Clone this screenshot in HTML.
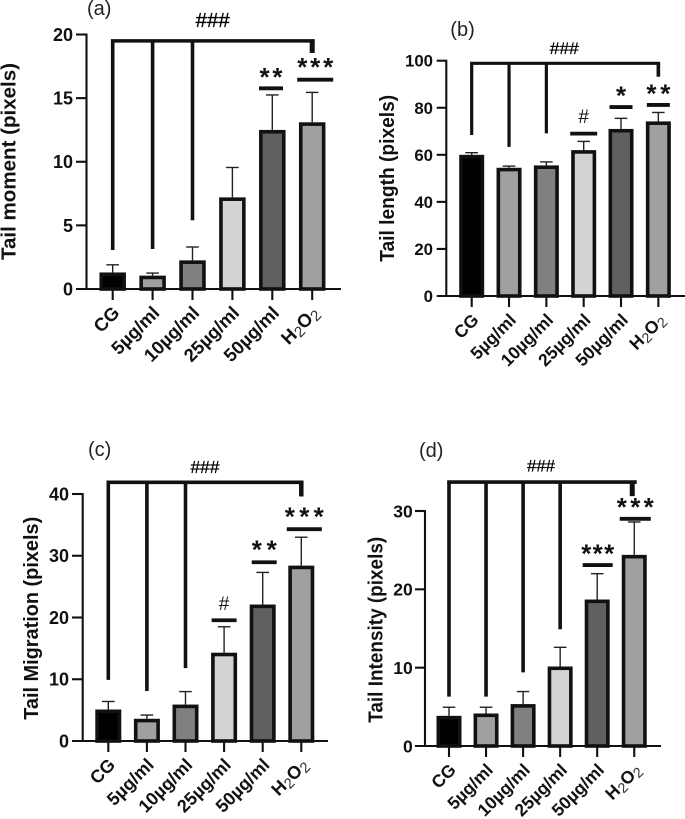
<!DOCTYPE html>
<html lang="en">
<head>
<meta charset="utf-8">
<title>Comet assay tail parameters</title>
<style>
html,body{margin:0;padding:0;background:#fff;}
body{width:685px;height:819px;overflow:hidden;}
svg{display:block;font-family:"Liberation Sans",sans-serif;}
</style>
</head>
<body>
<svg id="figure" width="685" height="819" viewBox="0 0 685 819" xmlns="http://www.w3.org/2000/svg"></svg>
<script>
const categories = ['CG', '5µg/ml', '10µg/ml', '25µg/ml', '50µg/ml', 'H2O2'];
const barFills = ['#000000', '#a0a0a0', '#808080', '#d3d3d3', '#606060', '#a0a0a0'];

const aTicks = [0, 5, 10, 15, 20];
const aValues = [1.3, 1.05, 2.25, 7.2, 12.5, 13.1];
const aErrorTops = [1.9, 1.25, 3.3, 9.55, 15.25, 15.45];
const aBracketDrops = [3.06, 3.14, 5.4];
const aBracketLevel = 19.5;
const aBracketEnd = 18.55;
const aSigLabels = ['**', '***'];
const aSigCategories = [4, 5];
const aSigLevels = [15.77, 16.45];

const bTicks = [0, 20, 40, 60, 80, 100];
const bValues = [60, 54.5, 55.5, 62, 71, 74.2];
const bErrorTops = [60.9, 55.2, 57, 65.7, 75.5, 78];
const bBracketDrops = [68.4, 63.4, 69.1];
const bBracketLevel = 98.9;
const bBracketEnd = 93.2;
const bSigLabels = ['#', '*', '**'];
const bSigCategories = [3, 4, 5];
const bSigLevels = [69, 80.3, 81.2];

const cTicks = [0, 10, 20, 30, 40];
const cValues = [5.1, 3.6, 5.9, 14.3, 22.1, 28.4];
const cErrorTops = [6.4, 4.2, 8, 18.5, 27.3, 33];
const cBracketDrops = [9.9, 8.1, 11.8];
const cBracketLevel = 41.9;
const cBracketEnd = 39.6;
const cSigLabels = ['#', '**', '***'];
const cSigCategories = [3, 4, 5];
const cSigLevels = [19.55, 28.95, 34.3];

const dTicks = [0, 10, 20, 30];
const dValues = [3.85, 4.15, 5.35, 10.15, 18.7, 24.4];
const dErrorTops = [4.95, 4.95, 6.95, 12.6, 22, 28.6];
const dBracketDrops = [6.3, 6.3, 9.4, 14.9];
const dBracketLevel = 33.7;
const dBracketEnd = 31.9;
const dSigLabels = ['***', '***'];
const dSigCategories = [4, 5];
const dSigLevels = [23.1, 29];

const panels = [
  {id:'a', title:'Tail moment (pixels)', letter:'(a)', ticks:aTicks, values:aValues, tops:aErrorTops,
   drops:aBracketDrops, level:aBracketLevel, end:aBracketEnd, sigL:aSigLabels, sigC:aSigCategories, sigV:aSigLevels,
   axisX:86.5, y0:289, yTop:34.5, yMax:20, axisStart:76, axisEnd:341, first:112.7, step:39.9, barW:26.5, fs:18,
   tickRight:73, titleX:15.5, titleMid:161.5, titleLen:197, letterX:87, letterY:15, hashX:212.7, hashY:27, hashLen:34, hashFs:20,
   brW:3.6, endW:5, sigW:[24,36], sigDx:[-1.3,3], sigTextW:[23,36], sigGap:[14,15], xfs:18.5},
  {id:'b', title:'Tail length (pixels)', letter:'(b)', ticks:bTicks, values:bValues, tops:bErrorTops,
   drops:bBracketDrops, level:bBracketLevel, end:bBracketEnd, sigL:bSigLabels, sigC:bSigCategories, sigV:bSigLevels,
   axisX:446.3, y0:296, yTop:60.7, yMax:100, axisStart:436.7, axisEnd:685, first:471.7, step:37.33, barW:25, fs:16.8,
   tickRight:433, titleX:394, titleMid:178.3, titleLen:167, letterX:450.3, letterY:36, hashX:564.3, hashY:54, hashLen:29, hashFs:17,
   brW:3.2, endW:3.6, sigW:[27,23,23], sigDx:[0,0,0], sigTextW:[10,10,24], sigGap:[17,14,14], xfs:17.5},
  {id:'c', title:'Tail Migration (pixels)', letter:'(c)', ticks:cTicks, values:cValues, tops:cErrorTops,
   drops:cBracketDrops, level:cBracketLevel, end:cBracketEnd, sigL:cSigLabels, sigC:cSigCategories, sigV:cSigLevels,
   axisX:82.7, y0:741, yTop:494, yMax:40, axisStart:72, axisEnd:328, first:108.3, step:38.6, barW:26, fs:18,
   tickRight:69, titleX:38, titleMid:618.3, titleLen:203, letterX:88, letterY:456, hashX:205, hashY:473, hashLen:29, hashFs:17.5,
   brW:3.6, endW:4.5, sigW:[25,25,35], sigDx:[0,1.5,3], sigTextW:[10,25,39], sigGap:[17,15,15], xfs:18},
  {id:'d', title:'Tail Intensity (pixels)', letter:'(d)', ticks:dTicks, values:dValues, tops:dErrorTops,
   drops:dBracketDrops, level:dBracketLevel, end:dBracketEnd, sigL:dSigLabels, sigC:dSigCategories, sigV:dSigLevels,
   axisX:425, y0:746, yTop:511, yMax:30, axisStart:415, axisEnd:661, first:449, step:37.05, barW:25, fs:17.5,
   tickRight:412.7, titleX:382.5, titleMid:629.8, titleLen:186, letterX:419, letterY:457, hashX:541, hashY:471.5, hashLen:28, hashFs:17,
   brW:3.6, endW:5, sigW:[30,31], sigDx:[0.5,1], sigTextW:[33,37], sigGap:[14,14.5], xfs:17.5}
];

const NS = 'http://www.w3.org/2000/svg';
const root = document.getElementById('figure');

function make(parent, tag, attrs, name) {
  const el = document.createElementNS(NS, tag);
  for (const k in attrs) el.setAttribute(k, attrs[k]);
  
  
  parent.appendChild(el);
  return el;
}
function line(parent, x1, y1, x2, y2, w, color, name) {
  return make(parent, 'line', {x1:x1, y1:y1, x2:x2, y2:y2, stroke:color, 'stroke-width':w}, name);
}

panels.forEach(function (p) {
  const g = make(root, 'g', {}, 'panel-' + p.id);
  const y = function (v) { return p.y0 - (v / p.yMax) * (p.y0 - p.yTop); };
  const x = function (i) { return p.first + i * p.step; };

  // bars + error bars
  p.values.forEach(function (v, i) {
    const cx = x(i), top = y(v), sw = 3.6;
    const eTop = y(p.tops[i]);
    line(g, cx, top, cx, eTop, 1.4, '#222', 'error-bar-' + p.id + '-' + i);
    line(g, cx - 6.3, eTop, cx + 6.3, eTop, 1.4, '#222', 'error-cap-' + p.id + '-' + i);
    make(g, 'rect', {
      x: cx - p.barW / 2 + sw / 2, y: top + sw / 2,
      width: p.barW - sw, height: Math.max(p.y0 - top - sw / 2, 0),
      fill: barFills[i], stroke: '#111', 'stroke-width': sw
    }, 'bar-' + p.id + '-' + i);
  });

  // axes
  line(g, p.axisX, p.yTop - 1, p.axisX, p.y0 + 1, 2.1, '#111', 'y-axis-' + p.id);
  line(g, p.axisStart, p.y0, p.axisEnd, p.y0, 2.1, '#111', 'x-axis-' + p.id);

  p.ticks.forEach(function (t) {
    if (t !== 0) line(g, p.axisStart, y(t), p.axisX, y(t), 2.1, '#111', 'y-tick-' + p.id + '-' + t);
    const lab = make(g, 'text', {x:p.tickRight, y:y(t) + p.fs * 0.36, 'text-anchor':'end', 'font-size':p.fs, 'font-weight':'bold', fill:'#111'}, 'y-tick-label-' + p.id + '-' + t);
    lab.textContent = String(t);
  });

  categories.forEach(function (c, i) {
    const cx = x(i);
    line(g, cx, p.y0, cx, p.y0 + 11, 2.1, '#111', 'x-tick-' + p.id + '-' + i);
    const ax = cx + 8, ay = p.y0 + 25;
    const lab = make(g, 'text', {
      x: ax, y: ay, 'text-anchor': 'end', 'font-size': p.xfs, 'font-weight': 'bold', fill: '#111',
      transform: 'rotate(-45 ' + ax + ' ' + ay + ')'
    }, 'x-label-' + p.id + '-' + i);
    if (c === 'H2O2') {
      ['H', '2', 'O', '2'].forEach(function (part, k) {
        const s = document.createElementNS(NS, 'tspan');
        s.textContent = part;
        if (k % 2 === 1) {
          s.setAttribute('font-weight', 'normal');
          s.setAttribute('font-size', p.xfs * 0.82);
          s.setAttribute('dy', '3');
          s.setAttribute('fill', '#333');
        } else if (k === 2) {
          s.setAttribute('dy', '-3');
        }
        lab.appendChild(s);
      });
    } else {
      lab.textContent = c;
    }
  });

  // y title + panel letter
  const title = make(g, 'text', {
    x: p.titleX, y: p.titleMid, 'text-anchor': 'middle', 'font-size': 20, 'font-weight': 'bold', fill: '#111',
    textLength: p.titleLen, lengthAdjust: 'spacingAndGlyphs',
    transform: 'rotate(-90 ' + p.titleX + ' ' + p.titleMid + ')'
  }, 'y-axis-title-' + p.id);
  title.textContent = p.title;

  const letter = make(g, 'text', {x:p.letterX, y:p.letterY, 'font-size':20, fill:'#222'}, 'panel-label-' + p.id);
  letter.textContent = p.letter;

  // bracket
  const brY = y(p.level);
  const lastX = x(5);
  line(g, x(0) - p.brW / 2, brY, lastX + p.endW / 2, brY, p.brW, '#111', 'bracket-top-' + p.id);
  p.drops.forEach(function (d, i) {
    line(g, x(i), brY, x(i), y(d), p.brW, '#111', 'bracket-drop-' + p.id + '-' + i);
  });
  line(g, lastX - (p.id === 'd' ? 2 : 0), brY, lastX - (p.id === 'd' ? 2 : 0), y(p.end), p.endW, '#111', 'bracket-end-' + p.id);

  const hash = make(g, 'text', {x:p.hashX, y:p.hashY, 'text-anchor':'middle', 'font-size':p.hashFs, fill:'#000', stroke:'#000', 'stroke-width':0.3, textLength:p.hashLen, lengthAdjust:'spacingAndGlyphs'}, 'overall-significance-' + p.id);
  hash.textContent = '###';

  // significance markers
  p.sigL.forEach(function (s, i) {
    const cx = x(p.sigC[i]) + p.sigDx[i], sy = y(p.sigV[i]);
    line(g, cx - p.sigW[i] / 2, sy, cx + p.sigW[i] / 2, sy, 3.8, '#111', 'significance-bar-' + p.id + '-' + i);
    const isHash = s === '#';
    const fs = isHash ? 19 : 26;
    const center = sy - p.sigGap[i];
    const attrs = {x:cx, y:center + (isHash ? 6.5 : 11.5), 'text-anchor':'middle', 'font-size':fs, 'font-weight':isHash ? 'normal' : 'bold', fill:'#111'};
    if (s.length > 1) { attrs.textLength = p.sigTextW[i]; attrs.lengthAdjust = 'spacing'; }
    const t = make(g, 'text', attrs, 'significance-label-' + p.id + '-' + i);
    t.textContent = s;
  });
});
</script>
</body>
</html>
